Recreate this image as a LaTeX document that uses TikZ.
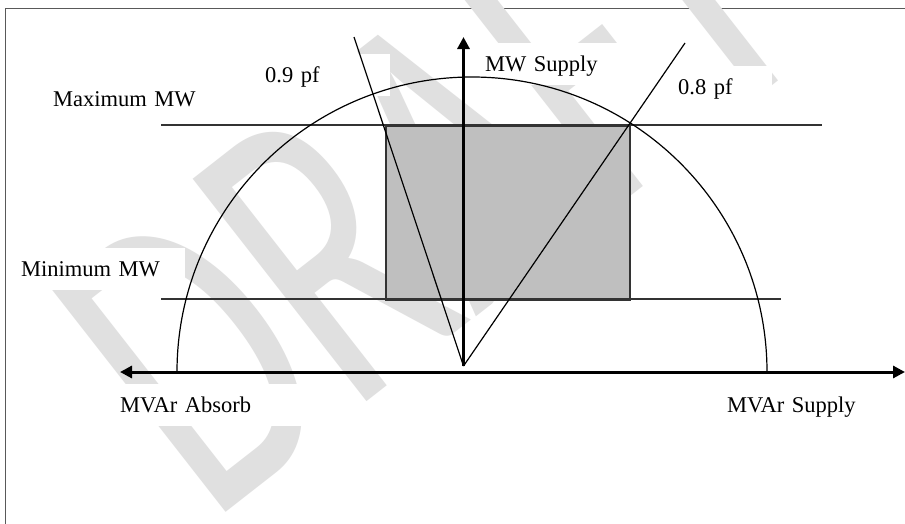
\documentclass[tikz,border=0pt]{standalone}
\usepackage{fontspec}
\setmainfont{Liberation Serif}
\newfontfamily\wmfont{Carlito}
\usetikzlibrary{arrows.meta}
\begin{document}
\begin{tikzpicture}[x=1pt,y=-1pt,
  lbl/.style={anchor=base west, fill=white, inner xsep=14pt, inner ysep=8pt, text height=20pt, text depth=6pt, align=left, font=\fontsize{22.5}{27}\selectfont},
  axisline/.style={line width=3pt, -{Triangle[length=12pt,width=12pt]}},
  guide/.style={line width=1.6pt, black!80},
  pfline/.style={line width=1.2pt, black},
  zonebox/.style={draw=black!80, line width=1.5pt, fill=black!25, inner sep=0pt, anchor=north west, minimum width=244pt, minimum height=174pt}
]
\useasboundingbox (0,0) rectangle (905,523);
\fill[white] (0,0) rectangle (905,523);
% frame
\draw[black!65, line width=1pt] (5,540) -- (5,8) -- (920,8);
% watermark
\node[rotate=38, anchor=base west, inner sep=0pt, text=black!12,
      font=\wmfont\fontsize{440}{440}\selectfont] (wm) at (210,525) {\scalebox{0.66}[1]{DRAFT}};
% operating zone
\node[zonebox] (zone) at (385,125) {};
% labels
\node[lbl, text width=155pt] (lmax) at (39,106) {Maximum MW};
\node[lbl, text width=150pt] (lmin) at (7,276) {Minimum MW};
\node[lbl, text width=111pt] (l09) at (251,82) {0.9 pf};
\node[lbl, text width=140pt] (lmw) at (471,71) {MW Supply};
\node[lbl, text width=80pt] (l08) at (664,94) {0.8 pf};
\node[lbl, text width=169pt] (labs) at (106,412) {MVAr Absorb};
\node[lbl, text width=150pt] (lsup) at (713,412) {MVAr Supply};
% coordinates
\coordinate (O) at (463.5,366);
\coordinate (C) at (472,372);
\coordinate (xl) at (120,372);
\coordinate (xr) at (905,372);
\coordinate (yt) at (463.5,37);
\coordinate (maxL) at (161,125);
\coordinate (maxR) at (822,125);
\coordinate (minL) at (161,299);
\coordinate (minR) at (781,299);
\coordinate (pf9) at (354,37);
\coordinate (pf8) at (685,43);
% guides
\draw[guide] (maxL) -- (maxR);
\draw[guide] (minL) -- (minR);
% capability semicircle
\draw[pfline] (177,372) arc[start angle=180, end angle=360, radius=295];
% power factor lines
\draw[pfline] (O) -- (pf9);
\draw[pfline] (O) -- (pf8);
% axes
\draw[axisline] (O) -- (yt);
\draw[line width=3pt, {Triangle[length=12pt,width=12pt]}-{Triangle[length=12pt,width=12pt]}] (xl) -- (xr);
\end{tikzpicture}
\end{document}
